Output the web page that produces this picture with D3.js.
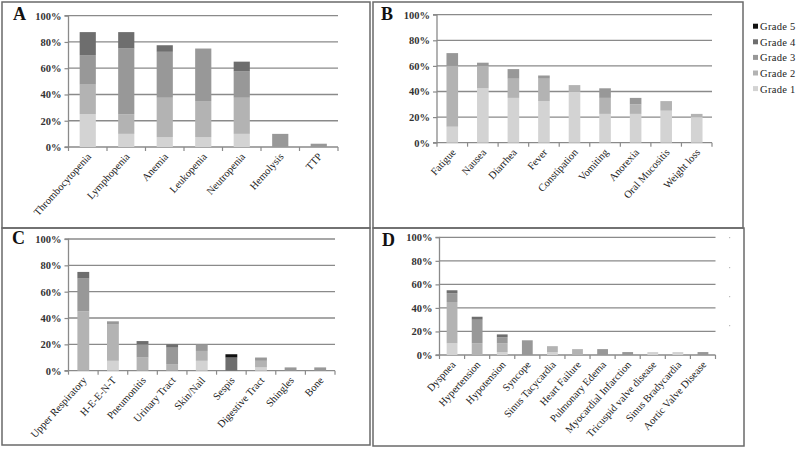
<!DOCTYPE html>
<html>
<head>
<meta charset="utf-8">
<script src="https://cdn.jsdelivr.net/npm/d3@7"></script>
<style>
  html, body { margin: 0; padding: 0; background: #fff; }
  svg { display: block; }
  text { font-family: "Liberation Serif", "DejaVu Serif", serif; }
</style>
</head>
<body>
<svg id="chart" width="800" height="452"></svg>
<script>
// ---------- DATA ----------
const gradeNames = ["Grade 1", "Grade 2", "Grade 3", "Grade 4", "Grade 5"];
const yTicks = [0, 20, 40, 60, 80, 100];

const catsA = ["Thrombocytopenia", "Lymphopenia", "Anemia", "Leukopenia", "Neutropenia", "Hemolysis", "TTP"];
const a_g1 = [25, 10, 7.5, 7.5, 10, 0, 0];
const a_g2 = [22.5, 15, 30, 27.5, 27.5, 0, 0];
const a_g3 = [22.5, 50, 35, 40, 20, 10, 2.5];
const a_g4 = [17.5, 12.5, 5, 0, 7.5, 0, 0];
const a_g5 = [0, 0, 0, 0, 0, 0, 0];

const catsB = ["Fatigue", "Nausea", "Diarrhea", "Fever", "Constipation", "Vomiting", "Anorexia", "Oral Mucositis", "Weight loss"];
const b_g1 = [12.5, 42.5, 35, 32.5, 40, 22.5, 22.5, 25, 20];
const b_g2 = [47.5, 17.5, 15, 17.5, 5, 12.5, 7.5, 7.5, 2.5];
const b_g3 = [10, 2.5, 7.5, 2.5, 0, 7.5, 5, 0, 0];
const b_g4 = [0, 0, 0, 0, 0, 0, 0, 0, 0];
const b_g5 = [0, 0, 0, 0, 0, 0, 0, 0, 0];

const catsC = ["Upper Respiratory", "H-E-E-N-T", "Pneumonitis", "Urinary Tract", "Skin/Nail", "Sespis", "Digestive Tract", "Shingles", "Bone"];
const c_g1 = [0, 7.5, 0, 0, 7.5, 0, 2.5, 0, 0];
const c_g2 = [45, 27.5, 10, 5, 7.5, 0, 5, 0, 0];
const c_g3 = [25, 2.5, 10, 12.5, 5, 0, 2.5, 2.5, 2.5];
const c_g4 = [5, 0, 2.5, 2.5, 0, 10, 0, 0, 0];
const c_g5 = [0, 0, 0, 0, 0, 2.5, 0, 0, 0];

const catsD = ["Dyspnea", "Hypertension", "Hypotension", "Syncope", "Sinus Tacycardia", "Heart Failure", "Pulmonary Edema", "Myocardial Infarction", "Tricuspid valve disease", "Sinus Bradycardia", "Aortic Valve Disease"];
const d_g1 = [10, 0, 2.5, 0, 2.5, 0, 0, 0, 2.5, 2.5, 0];
const d_g2 = [35, 10, 7.5, 0, 5, 5, 0, 0, 0, 0, 0];
const d_g3 = [7.5, 20, 5, 12.5, 0, 0, 5, 2.5, 0, 0, 2.5];
const d_g4 = [2.5, 2.5, 2.5, 0, 0, 0, 0, 0, 0, 0, 0];
const d_g5 = [0, 0, 0, 0, 0, 0, 0, 0, 0, 0, 0];

// ---------- STYLE / LAYOUT ----------
const gradeColors = ["#d3d3d3", "#b3b3b3", "#989898", "#6e6e6e", "#111111"];
const frameColor = "#6a6a6a";
const gridColor = "#8a8a8a";

const panels = [
  { label: "A", cats: catsA, series: [a_g1, a_g2, a_g3, a_g4, a_g5],
    frame: [2, 2, 370, 228], x0: 68.5, x1: 338, y0: 147, y1: 15.7, pad: 0.58, lx: 13, ly: 20 },
  { label: "B", cats: catsB, series: [b_g1, b_g2, b_g3, b_g4, b_g5],
    frame: [373, 2, 743, 228], x0: 437, x1: 712, y0: 142.7, y1: 14.7, pad: 0.62, lx: 381, ly: 20 },
  { label: "C", cats: catsC, series: [c_g1, c_g2, c_g3, c_g4, c_g5],
    frame: [2, 228, 370, 445], x0: 68.5, x1: 335, y0: 370.7, y1: 239, pad: 0.6, lx: 12, ly: 244 },
  { label: "D", cats: catsD, series: [d_g1, d_g2, d_g3, d_g4, d_g5],
    frame: [373, 228, 744, 446], x0: 439.5, x1: 715.5, y0: 355, y1: 237.3, pad: 0.57, lx: 382, ly: 246 }
];

const svg = d3.select("#chart");

// frames
panels.forEach(p => {
  const [fx0, fy0, fx1, fy1] = p.frame;
  svg.append("rect")
    .attr("x", fx0).attr("y", fy0)
    .attr("width", fx1 - fx0).attr("height", fy1 - fy0)
    .attr("fill", "none").attr("stroke", frameColor).attr("stroke-width", 1.5);
});

panels.forEach(p => {
  const g = svg.append("g");
  const x = d3.scaleBand().domain(p.cats).range([p.x0, p.x1])
    .paddingInner(p.pad).paddingOuter(p.pad / 2);
  const y = d3.scaleLinear().domain([0, 100]).range([p.y0, p.y1]);

  // gridlines
  g.selectAll(".grid").data(yTicks).enter().append("line")
    .attr("x1", p.x0).attr("x2", p.x1)
    .attr("y1", d => y(d)).attr("y2", d => y(d))
    .attr("stroke", gridColor).attr("stroke-width", 1.3);

  // y axis
  const yAxis = d3.axisLeft(y).tickValues(yTicks).tickSize(4).tickPadding(3)
    .tickFormat(d => d + "%");
  const ya = g.append("g").attr("transform", `translate(${p.x0},0)`).call(yAxis);
  ya.select(".domain").attr("stroke", gridColor).attr("stroke-width", 1.3)
    .attr("d", `M-4,${p.y1}H0V${p.y0}H-4`);
  ya.selectAll(".tick line").attr("stroke", gridColor).attr("stroke-width", 1.2);
  ya.selectAll(".tick text")
    .attr("font-family", "'Liberation Serif', serif")
    .attr("font-size", 10.5).attr("font-weight", "bold").attr("fill", "#333");

  // x ticks at category boundaries
  const step = x.step();
  const bounds = d3.range(p.cats.length + 1).map(i => p.x0 + i * step);
  g.selectAll(".xt").data(bounds).enter().append("line")
    .attr("x1", d => d).attr("x2", d => d)
    .attr("y1", p.y0).attr("y2", p.y0 + 4)
    .attr("stroke", gridColor).attr("stroke-width", 1.2);

  // stacked bars
  const rows = p.cats.map((c, i) => {
    const o = { cat: c };
    gradeNames.forEach((gn, k) => o[gn] = p.series[k][i]);
    return o;
  });
  const stack = d3.stack().keys(gradeNames)(rows);
  stack.forEach((layer, k) => {
    g.selectAll(".bar" + k).data(layer.filter(d => d[1] - d[0] > 0)).enter().append("rect")
      .attr("x", d => x(d.data.cat))
      .attr("width", x.bandwidth())
      .attr("y", d => y(d[1]))
      .attr("height", d => y(d[0]) - y(d[1]))
      .attr("fill", gradeColors[k]);
  });

  // category labels
  g.selectAll(".cl").data(p.cats).enter().append("text")
    .attr("transform", d => `translate(${x(d) + x.bandwidth() / 2 + 4},${p.y0 + 10}) rotate(-48)`)
    .attr("text-anchor", "end")
    .attr("font-size", 10.5)
    .attr("fill", "#222")
    .text(d => d);

  // panel letter
  g.append("text").attr("x", p.lx).attr("y", p.ly)
    .attr("font-size", 18).attr("font-weight", "bold").attr("fill", "#111")
    .text(p.label);
});

// faint marks left of panel D (remnants of a hidden legend)
svg.selectAll(".dots").data([237, 267, 296, 325]).enter().append("rect")
  .attr("x", 729).attr("y", d => d).attr("width", 1.2).attr("height", 1.2)
  .attr("fill", "#bbb");

// legend (top grade first)
const legendItems = gradeNames.map((gn, k) => ({ name: gn, color: gradeColors[k] })).reverse();
const lg = svg.append("g");
legendItems.forEach((it, i) => {
  const cy = 26.7 + i * 15.6;
  lg.append("rect").attr("x", 753).attr("y", cy - 3).attr("width", 5).attr("height", 5)
    .attr("fill", it.color);
  lg.append("text").attr("x", 760).attr("y", cy + 3.5)
    .attr("font-size", 10.5).attr("fill", "#222").attr("letter-spacing", 0.3)
    .text(it.name);
});
</script>
</body>
</html>
